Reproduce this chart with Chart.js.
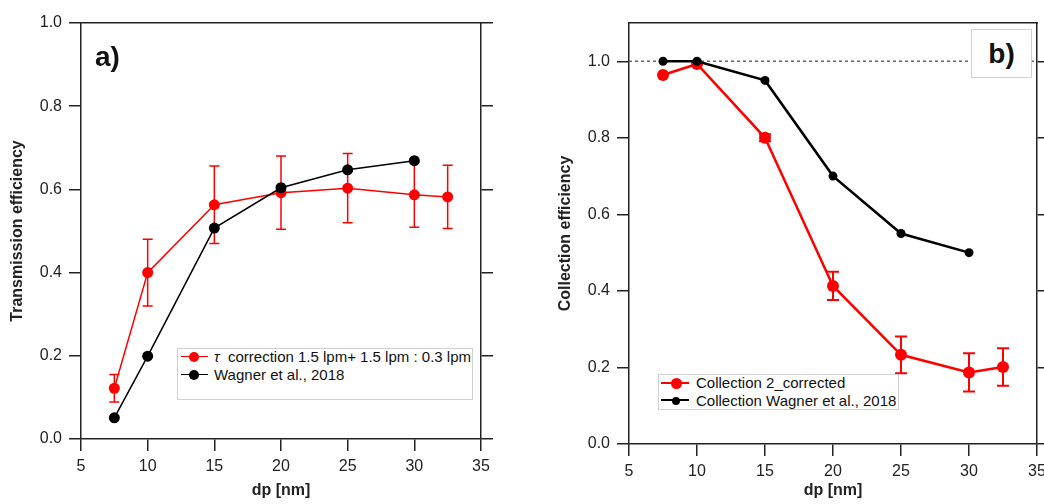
<!DOCTYPE html>
<html>
<head>
<meta charset="utf-8">
<script src="https://cdn.jsdelivr.net/npm/chart.js@4.4.0/dist/chart.umd.min.js"></script>
<style>
  body { margin: 0; background: #fff; width: 1044px; height: 504px; position: relative; overflow: hidden;
         font-family: "Liberation Sans", Arial, sans-serif; color: #111; }
  .panel { position: absolute; top: 0; height: 504px; }
  #panelA { left: 0; width: 540px; }
  #panelB { left: 540px; width: 504px; }
  .legend { position: absolute; background: #fff; border: 1px solid #d0d0d0; font-size: 15px; box-sizing: border-box; }
  .row { position: absolute; left: 0; height: 18px; line-height: 18px; white-space: nowrap; }
  .sym { position: absolute; height: 0; }
  .dot { position: absolute; border-radius: 50%; }
  .txt { position: absolute; top: 0; }
  .tag { position: absolute; font-weight: bold; font-size: 28px; line-height: 28px; }
  #tagB { left: 971px; top: 29px; width: 61px; height: 49px; border: 1px solid #d0d0d0; background: #fff;
          box-sizing: border-box; text-align: center; line-height: 47px; }
</style>
</head>
<body>
<div class="panel" id="panelA"><canvas id="chartA" width="540" height="504"></canvas></div>
<div class="panel" id="panelB"><canvas id="chartB" width="504" height="504"></canvas></div>
<div class="legend" id="legendA" style="left:177px; top:348px; width:296px; height:52px;"></div>
<div class="legend" id="legendB" style="left:658px; top:374px; width:241px; height:36px;"></div>
<div class="tag" id="tagA" style="left:95px; top:43px;">a)</div>
<div class="tag" id="tagB">b)</div>

<script>
// ---- data ----
const dpA = [7.5, 10, 15, 20, 25, 30, 32.5];
const transCorrected = [0.122, 0.400, 0.563, 0.592, 0.603, 0.587, 0.582];
const transErr = [0.033, 0.080, 0.093, 0.088, 0.083, 0.078, 0.076];
const dpWagner = [7.5, 10, 15, 20, 25, 30];
const transWagner = [0.051, 0.199, 0.507, 0.604, 0.647, 0.669];

const dpB = [7.5, 10, 15, 20, 25, 30, 32.5];
const collCorrected = [0.964, 0.993, 0.800, 0.413, 0.233, 0.187, 0.201];
const collErr = [0, 0, 0.009, 0.037, 0.048, 0.050, 0.049];
const collWagner = [1.0, 1.0, 0.95, 0.70, 0.55, 0.50];

const refLineX = [5, 35];
const refLineY = [1, 1];

const xTicks = [5, 10, 15, 20, 25, 30, 35];
const yTicks = [0, 0.2, 0.4, 0.6, 0.8, 1.0];

const labelsA = ['τ  correction 1.5 lpm+ 1.5 lpm : 0.3 lpm', 'Wagner et al., 2018'];
const labelsB = ['Collection 2_corrected', 'Collection Wagner et al., 2018'];

const RED = '#ff0000';
const BLACK = '#000000';
const AXIS = '#222222';

Chart.defaults.font.family = '"Liberation Sans", Arial, sans-serif';
Chart.defaults.color = '#222';

const pts = (xs, ys) => xs.map((x, i) => ({ x: x, y: ys[i] }));

// vertical error bars, drawn through the chart scales
const errorBars = {
    id: 'errorBars',
    beforeDatasetsDraw(chart, args, opts) {
        const { ctx, scales: { x, y } } = chart;
        chart.data.datasets.forEach(ds => {
            if (!ds.errors) return;
            ctx.save();
            ctx.strokeStyle = ds.borderColor;
            ctx.lineWidth = opts.width || 1.5;
            const cap = opts.cap || 5;
            ds.data.forEach((p, i) => {
                const e = ds.errors[i];
                if (!e) return;
                const px = x.getPixelForValue(p.x);
                const top = y.getPixelForValue(p.y + e);
                const bot = y.getPixelForValue(p.y - e);
                ctx.beginPath();
                ctx.moveTo(px, top); ctx.lineTo(px, bot);
                ctx.moveTo(px - cap, top); ctx.lineTo(px + cap, top);
                ctx.moveTo(px - cap, bot); ctx.lineTo(px + cap, bot);
                ctx.stroke();
            });
            ctx.restore();
        });
    }
};

function makeScales(yTitle, yMax, sizes) {
    const fixTicks = list => s => { s.ticks = list.map(v => ({ value: v })); };
    const border = { color: AXIS, width: 1.5 };
    const grid = { drawOnChartArea: false, tickLength: 12, color: AXIS, lineWidth: 1.5 };
    return {
        x: {
            type: 'linear', position: 'bottom', min: 5, max: 35,
            afterBuildTicks: fixTicks(xTicks),
            ticks: { font: { size: 16 }, padding: 6, maxRotation: 0, callback: v => String(v) },
            grid: grid, border: border,
            title: { display: true, text: 'dp [nm]', font: { size: 16, weight: 'bold' }, padding: { top: 0, bottom: 4 } },
            afterFit: s => { s.height = sizes.bottom; s.paddingLeft = 0; s.paddingRight = 0; }
        },
        xTop: {
            type: 'linear', position: 'top', min: 5, max: 35,
            ticks: { display: false }, grid: { display: false }, border: border,
            afterFit: s => { s.height = 0; s.paddingLeft = 0; s.paddingRight = 0; }
        },
        y: {
            type: 'linear', position: 'left', min: 0, max: yMax,
            afterBuildTicks: fixTicks(yTicks),
            ticks: { font: { size: 16 }, padding: 7, callback: v => v.toFixed(1) },
            grid: grid, border: border,
            title: { display: true, text: yTitle, font: { size: 16, weight: 'bold' }, padding: { top: sizes.titlePad, bottom: 0 } },
            afterFit: s => { s.width = sizes.left; s.paddingTop = 0; s.paddingBottom = 0; }
        },
        yRight: {
            type: 'linear', position: 'right', min: 0, max: yMax,
            afterBuildTicks: fixTicks(yTicks),
            ticks: { display: false },
            grid: grid, border: border,
            afterFit: s => { s.width = sizes.right; s.paddingTop = 0; s.paddingBottom = 0; }
        }
    };
}

function baseOptions(scales, padRight, errOpts) {
    return {
        responsive: false,
        animation: false,
        layout: { padding: { top: 23, left: 0, right: padRight, bottom: 0 } },
        plugins: { legend: { display: false }, tooltip: { enabled: false }, errorBars: errOpts },
        scales: scales
    };
}

// ---- panel a ----
new Chart(document.getElementById('chartA'), {
    type: 'line',
    data: {
        datasets: [
            { label: labelsA[1], data: pts(dpWagner, transWagner), borderColor: BLACK, backgroundColor: BLACK,
              borderWidth: 1.5, pointRadius: 5.5, pointBorderWidth: 0, order: 1 },
            { label: labelsA[0], data: pts(dpA, transCorrected), errors: transErr, borderColor: RED, backgroundColor: RED,
              borderWidth: 1.5, pointRadius: 5.5, pointBorderWidth: 0, order: 2 }
        ]
    },
    options: baseOptions(makeScales('Transmission efficiency', 1.0, { left: 81, bottom: 65, right: 12, titlePad: 8 }), 47,
        { width: 1.5, cap: 5 }),
    plugins: [errorBars]
});

// ---- panel b ----
new Chart(document.getElementById('chartB'), {
    type: 'line',
    data: {
        datasets: [
            { label: labelsB[1], data: pts(dpWagner, collWagner), borderColor: BLACK, backgroundColor: BLACK,
              borderWidth: 2.5, pointRadius: 4.5, pointBorderWidth: 0, order: 1 },
            { label: labelsB[0], data: pts(dpB, collCorrected), errors: collErr, borderColor: RED, backgroundColor: RED,
              borderWidth: 2.5, pointRadius: 6, pointBorderWidth: 0, order: 2 },
            { label: 'unity', data: pts(refLineX, refLineY), borderColor: '#666', borderDash: [3, 3],
              borderWidth: 1.5, pointRadius: 0, order: 3 }
        ]
    },
    options: baseOptions(makeScales('Collection efficiency', 1.1, { left: 89, bottom: 60, right: 7, titlePad: 16 }), 0,
        { width: 2, cap: 6 }),
    plugins: [errorBars]
});

// ---- HTML legends ----
function buildLegend(el, items, geom) {
    items.forEach((it, i) => {
        const row = document.createElement('div');
        row.className = 'row';
        row.style.top = (geom.rows[i] - 9) + 'px';
        row.style.width = '100%';
        const line = document.createElement('div');
        line.className = 'sym';
        line.style.left = geom.lineX0 + 'px';
        line.style.width = (geom.lineX1 - geom.lineX0) + 'px';
        line.style.top = (9 - geom.lineW / 2) + 'px';
        line.style.borderTop = geom.lineW + 'px solid ' + it.color;
        row.appendChild(line);
        const dot = document.createElement('div');
        dot.className = 'dot';
        dot.style.width = dot.style.height = (2 * it.r) + 'px';
        dot.style.left = (geom.dotX - it.r) + 'px';
        dot.style.top = (9 - it.r) + 'px';
        dot.style.background = it.color;
        row.appendChild(dot);
        const txt = document.createElement('span');
        txt.className = 'txt';
        txt.style.left = geom.textX + 'px';
        if (it.html) txt.innerHTML = it.html; else txt.textContent = it.text;
        row.appendChild(txt);
        el.appendChild(row);
    });
}

buildLegend(document.getElementById('legendA'), [
    { color: RED, r: 5, html: '<i>' + labelsA[0].slice(0, 1) + '</i>' + labelsA[0].slice(1).replace(/ /g, '&nbsp;') },
    { color: BLACK, r: 5, text: labelsA[1] }
], { rows: [8, 25.5], lineX0: 3, lineX1: 30, lineW: 1.5, dotX: 16, textX: 36 });

buildLegend(document.getElementById('legendB'), [
    { color: RED, r: 5.5, text: labelsB[0] },
    { color: BLACK, r: 4, text: labelsB[1] }
], { rows: [8, 25.5], lineX0: 2, lineX1: 30, lineW: 2.5, dotX: 17, textX: 37 });
</script>
</body>
</html>
